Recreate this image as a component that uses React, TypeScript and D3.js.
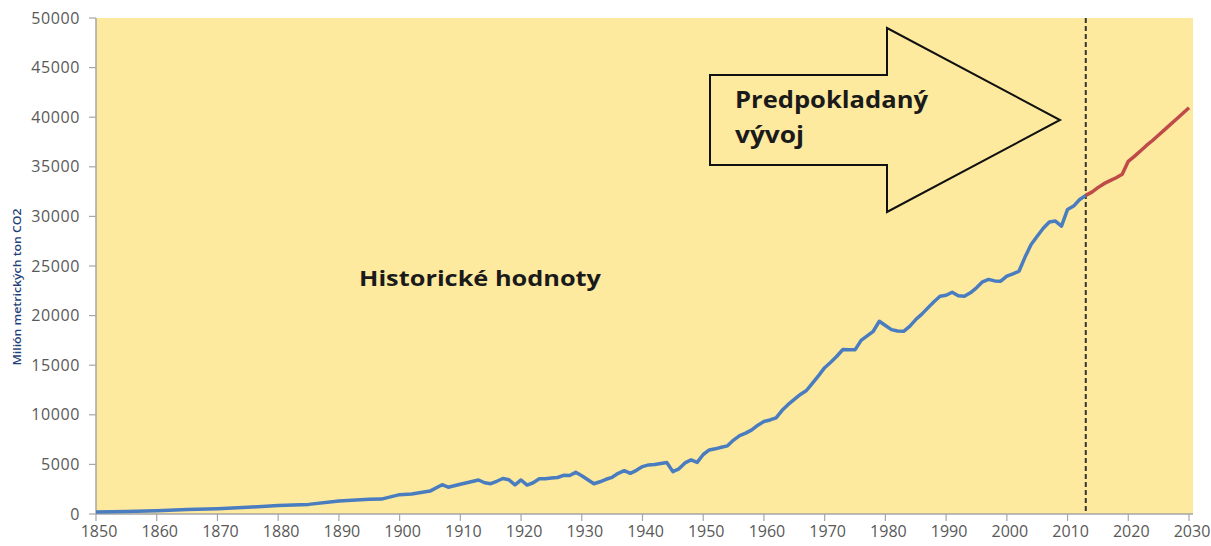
import React from "react";
import * as d3 from "d3";

const historicalYears = [1850,1855,1860,1865,1870,1875,1880,1885,1890,1895,1897,1900,1902,1905,1907,1908,1910,1913,1914,1915,1916,1917,1918,1919,1920,1921,1922,1923,1924,1925,1926,1927,1928,1929,1930,1931,1932,1933,1934,1935,1936,1937,1938,1939,1940,1941,1942,1943,1944,1945,1946,1947,1948,1949,1950,1951,1952,1953,1954,1955,1956,1957,1958,1959,1960,1961,1962,1963,1964,1965,1966,1967,1968,1969,1970,1971,1972,1973,1974,1975,1976,1977,1978,1979,1980,1981,1982,1983,1984,1985,1986,1987,1988,1989,1990,1991,1992,1993,1994,1995,1996,1997,1998,1999,2000,2001,2002,2003,2004,2005,2006,2007,2008,2009,2010,2011,2012,2013];
const historicalValues = [200,260,330,450,540,680,860,970,1300,1480,1500,1950,2020,2310,2950,2700,3000,3430,3150,3050,3300,3580,3450,2930,3430,2920,3150,3550,3550,3620,3680,3900,3880,4200,3850,3450,3050,3250,3500,3700,4100,4370,4100,4400,4780,4950,5000,5100,5200,4270,4550,5150,5450,5200,6000,6460,6570,6730,6870,7450,7900,8150,8480,8950,9320,9480,9700,10450,11050,11550,12050,12450,13200,13950,14750,15300,15900,16580,16570,16550,17500,17950,18420,19430,19000,18590,18450,18420,18920,19600,20150,20780,21400,21950,22050,22350,22000,21950,22300,22800,23400,23650,23500,23470,23970,24200,24470,25900,27170,28000,28800,29430,29530,29020,30700,31040,31700,32120];
const projectedYears = [2013,2014,2015,2016,2017,2018,2019,2020,2021,2022,2023,2024,2025,2026,2027,2028,2029,2030];
const projectedValues = [32120,32450,32900,33300,33600,33900,34240,35550,36050,36600,37150,37650,38200,38750,39300,39850,40400,40950];
const xTicks = [1850,1860,1870,1880,1890,1900,1910,1920,1930,1940,1950,1960,1970,1980,1990,2000,2010,2020,2030];
const yTicks = [0,5000,10000,15000,20000,25000,30000,35000,40000,45000,50000];
const forecastStartYear = 2013;
const yAxisTitle = "Milión metrických ton CO2";
const historyLabel = "Historické hodnoty";
const forecastLabel1 = "Predpokladaný";
const forecastLabel2 = "vývoj";

export default function App() {
  const W = 1211, H = 546;
  const left = 96, right = 1193, top = 18, bottom = 514;
  const x = d3.scaleLinear().domain([1850, 2030]).range([left, 1189]);
  const y = d3.scaleLinear().domain([0, 50000]).range([bottom, top]);
  const line = d3.line<[number, number]>().x(d => x(d[0])).y(d => y(d[1]));
  const hist = historicalYears.map((yr, i) => [yr, historicalValues[i]] as [number, number]);
  const proj = projectedYears.map((yr, i) => [yr, projectedValues[i]] as [number, number]);
  const axisColor = "#A6A6A6";
  const labelColor = "#595959";
  const font = "'Open Sans', 'DejaVu Sans', sans-serif";
  const arrow = [[710,75],[887,75],[887,28],[1060,120],[887,212],[887,165],[710,165]];
  return (
    <svg width={W} height={H} style={{ position: "absolute", left: 0, top: 0, background: "#fff" }}>
      <rect x={left} y={top} width={right - left} height={bottom - top} fill="#FEEA9F" />
      <line x1={left} x2={left} y1={top} y2={bottom} stroke={axisColor} strokeWidth={1.5} />
      <line x1={left} x2={right} y1={bottom} y2={bottom} stroke={axisColor} strokeWidth={1.5} />
      {yTicks.map(t => (
        <g key={"y" + t}>
          <line x1={left - 7} x2={left} y1={y(t)} y2={y(t)} stroke={axisColor} strokeWidth={1.2} />
          <text x={80} y={y(t) + 5.5} textAnchor="end" fontFamily={font} fontSize={16} letterSpacing={0.6} fill={labelColor}>{t}</text>
        </g>
      ))}
      {xTicks.map(t => (
        <g key={"x" + t}>
          <line x1={x(t)} x2={x(t)} y1={bottom} y2={bottom + 7} stroke={axisColor} strokeWidth={1.2} />
          <text x={x(t) + 3} y={537} textAnchor="middle" fontFamily={font} fontSize={16} fill={labelColor}>{t}</text>
        </g>
      ))}
      <text transform={`translate(21,287) rotate(-90)`} textAnchor="middle" fontFamily={font} fontSize={10} fontWeight={600} fill="#1F3F78" textLength={157} lengthAdjust="spacingAndGlyphs">{yAxisTitle}</text>
      <line x1={x(forecastStartYear)} x2={x(forecastStartYear)} y1={top} y2={bottom} stroke="#333" strokeWidth={2} strokeDasharray="5,3" />
      <polygon points={arrow.map(p => p.join(",")).join(" ")} fill="#FEEA9F" stroke="#111" strokeWidth={2} />
      <path d={line(hist) || ""} fill="none" stroke="#4A7CC0" strokeWidth={3.5} strokeLinejoin="round" />
      <path d={line(proj) || ""} fill="none" stroke="#BE4B48" strokeWidth={3.5} strokeLinejoin="round" />
      <text x={359} y={286} fontFamily={font} fontSize={22} fontWeight={700} fill="#1a1a1a" textLength={242} lengthAdjust="spacingAndGlyphs">{historyLabel}</text>
      <text x={735} y={108} fontFamily={font} fontSize={23} fontWeight={700} fill="#1a1a1a" textLength={193} lengthAdjust="spacingAndGlyphs">{forecastLabel1}</text>
      <text x={735} y={143} fontFamily={font} fontSize={23} fontWeight={700} fill="#1a1a1a" textLength={69} lengthAdjust="spacingAndGlyphs">{forecastLabel2}</text>
    </svg>
  );
}
